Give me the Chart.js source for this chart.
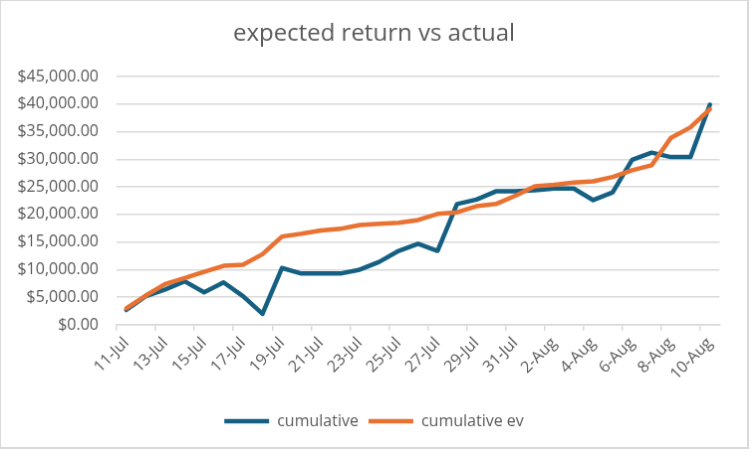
<!DOCTYPE html>
<html>
<head>
<meta charset="utf-8">
<script src="https://cdn.jsdelivr.net/npm/chart.js@4"></script>
<style>
  html, body { margin: 0; padding: 0; background: #fff; }
  #returnChart {
    display: block;
    border-left: 1px solid #d9d9d9;
    border-top: 1px solid #d9d9d9;
    border-right: 2px solid #d9d9d9;
    border-bottom: 2px solid #d9d9d9;
  }
</style>
</head>
<body>
<canvas id="returnChart" width="749" height="449"></canvas>
<script>
  /* ========================
     DATA
  =========================*/
  const days = [
    '11-Jul','12-Jul','13-Jul','14-Jul','15-Jul','16-Jul','17-Jul','18-Jul','19-Jul','20-Jul',
    '21-Jul','22-Jul','23-Jul','24-Jul','25-Jul','26-Jul','27-Jul','28-Jul','29-Jul','30-Jul',
    '31-Jul','1-Aug','2-Aug','3-Aug','4-Aug','5-Aug','6-Aug','7-Aug','8-Aug','9-Aug','10-Aug'
  ];

  const cumulative = [
    2700, 5200, 6400, 7900, 5900, 7700, 5200, 2000, 10300, 9300,
    9300, 9300, 10000, 11400, 13400, 14700, 13400, 21900, 22700, 24200,
    24200, 24400, 24700, 24700, 22600, 24000, 29900, 31200, 30400, 30400, 39900
  ];

  const cumulativeEv = [
    3000, 5300, 7400, 8500, 9600, 10700, 10900, 12800, 16000, 16500,
    17100, 17400, 18100, 18300, 18500, 19000, 20100, 20400, 21500, 21900,
    23400, 25100, 25400, 25800, 26000, 26800, 28000, 28900, 33900, 35800, 39100
  ];

  const yTicks = [0, 5000, 10000, 15000, 20000, 25000, 30000, 35000, 40000, 45000];

  /* ========================
     CHART
  =========================*/
  const grey = '#595959';
  const gridGrey = '#d9d9d9';
  const fontFamily = '"Open Sans", "Liberation Sans", Arial, sans-serif';

  const money = v => '$' + v.toLocaleString('en-US', { minimumFractionDigits: 2, maximumFractionDigits: 2 });

  const ctx = document.getElementById('returnChart').getContext('2d');

  new Chart(ctx, {
    type: 'line',
    data: {
      labels: days,
      datasets: [
        {
          label: 'cumulative',
          data: cumulative,
          borderColor: '#156082',
          backgroundColor: '#156082',
          borderWidth: 4.5,
          pointRadius: 0,
          tension: 0,
          borderJoinStyle: 'round',
          borderCapStyle: 'round',
          order: 1
        },
        {
          label: 'cumulative ev',
          data: cumulativeEv,
          borderColor: '#E97132',
          backgroundColor: '#E97132',
          borderWidth: 4.5,
          pointRadius: 0,
          tension: 0,
          borderJoinStyle: 'round',
          borderCapStyle: 'round',
          order: 0
        }
      ]
    },
    options: {
      responsive: false,
      animation: false,
      layout: { padding: { left: 0, right: 0, top: 0, bottom: 8 } },
      scales: {
        x: {
          offset: true,
          grid: {
            offset: true,
            drawOnChartArea: false,
            drawTicks: true,
            tickLength: 6,
            lineWidth: 1.5,
            color: c => (c.index % 2 === 0 ? gridGrey : 'rgba(0,0,0,0)')
          },
          border: { display: true, color: gridGrey, width: 1.5 },
          ticks: {
            autoSkip: false,
            maxRotation: 45,
            minRotation: 45,
            padding: 3,
            color: grey,
            font: { family: fontFamily, size: 16 },
            callback: (value, index) => (index % 2 === 0 ? days[index] : '')
          },
          afterFit: scale => { scale.height = 79; }
        },
        y: {
          min: 0,
          max: 45000,
          afterBuildTicks: scale => { scale.ticks = yTicks.map(v => ({ value: v })); },
          grid: { color: gridGrey, lineWidth: 1.5, drawTicks: false },
          border: { display: false },
          ticks: {
            padding: 18,
            color: grey,
            font: { family: fontFamily, size: 16 },
            callback: value => money(value)
          },
          afterFit: scale => { scale.width = 116; }
        },
        // empty right-hand spacer so title and legend centre on the whole canvas
        spacer: {
          position: 'right',
          min: 0,
          max: 1,
          grid: { display: false },
          border: { display: false },
          ticks: { display: false },
          afterFit: scale => { scale.width = 27.5; }
        }
      },
      plugins: {
        title: {
          display: true,
          text: 'expected return vs actual',
          color: grey,
          font: { family: fontFamily, size: 24, weight: 'normal' },
          padding: { top: 19, bottom: 28.2 }
        },
        legend: {
          position: 'bottom',
          labels: {
            usePointStyle: true,
            pointStyle: 'line',
            pointStyleWidth: 45,
            color: grey,
            font: { family: fontFamily, size: 16 },
            padding: 10,
            sort: (a, b) => a.datasetIndex - b.datasetIndex
          }
        },
        tooltip: { enabled: false }
      }
    }
  });
</script>
</body>
</html>
